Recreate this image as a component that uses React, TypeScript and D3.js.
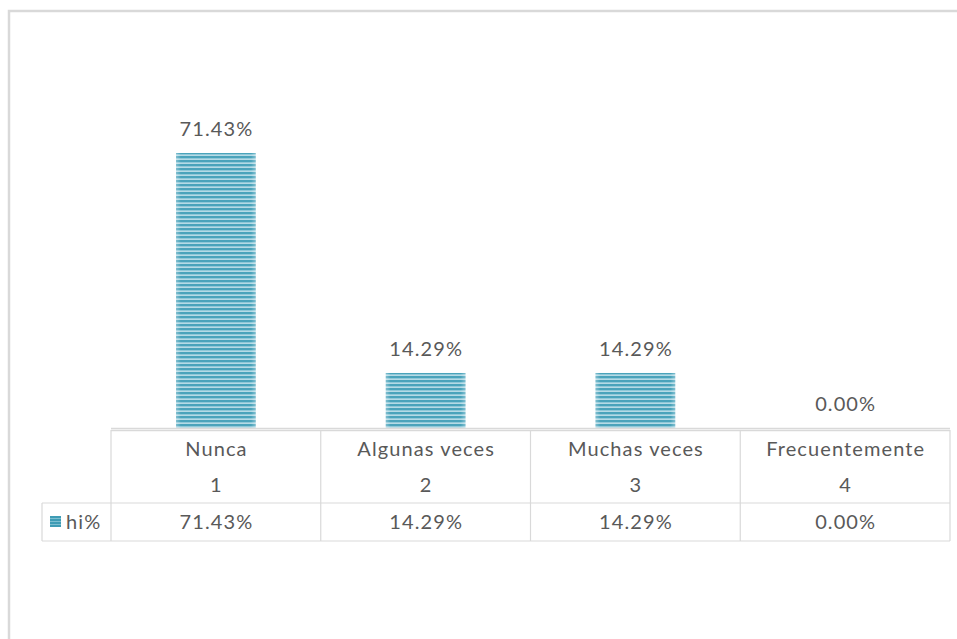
import React from "react";
import * as d3 from "d3";

const categories = ["Nunca", "Algunas veces", "Muchas veces", "Frecuentemente"];
const codes = ["1", "2", "3", "4"];
const values = [71.43, 14.29, 14.29, 0.0];
const seriesName = "hi%";

const W = 957;
const H = 639;
const FONT = "Lato, 'Open Sans', sans-serif";
const TEXT = "#595959";
const GRID = "#d9d9d9";
const FS = 20;
const LS = 1.1;

export default function App() {
  const x = d3.scaleBand<string>().domain(categories).range([111, 950]).padding(0);
  const y = d3.scaleLinear().domain([0, 80]).range([428, 120]);
  const barW = x.bandwidth() * 0.38;
  const fmt = (v: number) => v.toFixed(2) + "%";
  const tableTop = 430;
  const row1Bottom = 503;
  const row2Bottom = 541;
  const textProps = {
    fontFamily: FONT,
    fontSize: FS,
    fill: TEXT,
    letterSpacing: LS,
  };

  return (
    <svg
      width={W}
      height={H}
      style={{ position: "absolute", left: 0, top: 0 }}
      viewBox={`0 0 ${W} ${H}`}
    >
      <defs>
        <pattern id="stripes" width="8" height="4" patternUnits="userSpaceOnUse">
          <rect width="8" height="4" fill="#b5dae5" />
          <rect width="8" height="2" fill="#4aa3bb" />
          <rect y="2" width="8" height="0.8" fill="#86c4d5" />
        </pattern>
        <pattern id="stripesKey" width="4" height="3" patternUnits="userSpaceOnUse">
          <rect width="4" height="3" fill="#7dbfd1" />
          <rect width="4" height="2" fill="#3f9cb5" />
        </pattern>
        <linearGradient id="edge" x1="0" x2="1" y1="0" y2="0">
          <stop offset="0" stopColor="#ffffff" stopOpacity="0.3" />
          <stop offset="0.06" stopColor="#ffffff" stopOpacity="0" />
          <stop offset="0.94" stopColor="#ffffff" stopOpacity="0" />
          <stop offset="1" stopColor="#ffffff" stopOpacity="0.3" />
        </linearGradient>
      </defs>
      <rect x={0} y={0} width={W} height={H} fill="#fff" />
      {/* outer frame */}
      <rect x={9} y={11} width={W + 10} height={H + 10} fill="none" stroke={GRID} strokeWidth={2.5} />

      {/* bars */}
      {categories.map((c, i) => {
        const cx = (x(c) as number) + x.bandwidth() / 2;
        const top = y(values[i]);
        const h = y(0) - top;
        return (
          <g key={c}>
            {h > 0 && (
              <>
                <rect x={cx - barW / 2} y={top} width={barW} height={h} fill="url(#stripes)" />
                <rect x={cx - barW / 2} y={top} width={barW} height={h} fill="url(#edge)" />
              </>
            )}
            <text x={cx + LS / 2} y={top - 17} textAnchor="middle" {...textProps}>
              {fmt(values[i])}
            </text>
          </g>
        );
      })}

      {/* axis / table top */}
      <line x1={111} x2={950} y1={428.5} y2={428.5} stroke={GRID} strokeWidth={1.5} />
      <line x1={111} x2={950} y1={tableTop + 0.5} y2={tableTop + 0.5} stroke={GRID} strokeWidth={1.5} />

      {/* table grid */}
      <line x1={42} x2={950} y1={row1Bottom} y2={row1Bottom} stroke={GRID} strokeWidth={1.2} />
      <line x1={42} x2={950} y1={row2Bottom} y2={row2Bottom} stroke={GRID} strokeWidth={1.2} />
      <line x1={42} x2={42} y1={row1Bottom} y2={row2Bottom} stroke={GRID} strokeWidth={1.2} />
      {categories.map((c) => (
        <line
          key={"v" + c}
          x1={x(c) as number}
          x2={x(c) as number}
          y1={tableTop}
          y2={row2Bottom}
          stroke={GRID}
          strokeWidth={1.2}
        />
      ))}
      <line x1={950} x2={950} y1={tableTop} y2={row2Bottom} stroke={GRID} strokeWidth={1.2} />

      {/* table text */}
      {categories.map((c, i) => {
        const cx = (x(c) as number) + x.bandwidth() / 2 + LS / 2;
        return (
          <g key={"t" + c} textAnchor="middle" {...textProps}>
            <text x={cx} y={456}>{c}</text>
            <text x={cx} y={492}>{codes[i]}</text>
            <text x={cx} y={529}>{fmt(values[i])}</text>
          </g>
        );
      })}

      {/* legend key */}
      <rect x={50} y={516} width={11} height={11} fill="url(#stripesKey)" />
      <text x={66} y={529} {...textProps}>
        {seriesName}
      </text>
    </svg>
  );
}
